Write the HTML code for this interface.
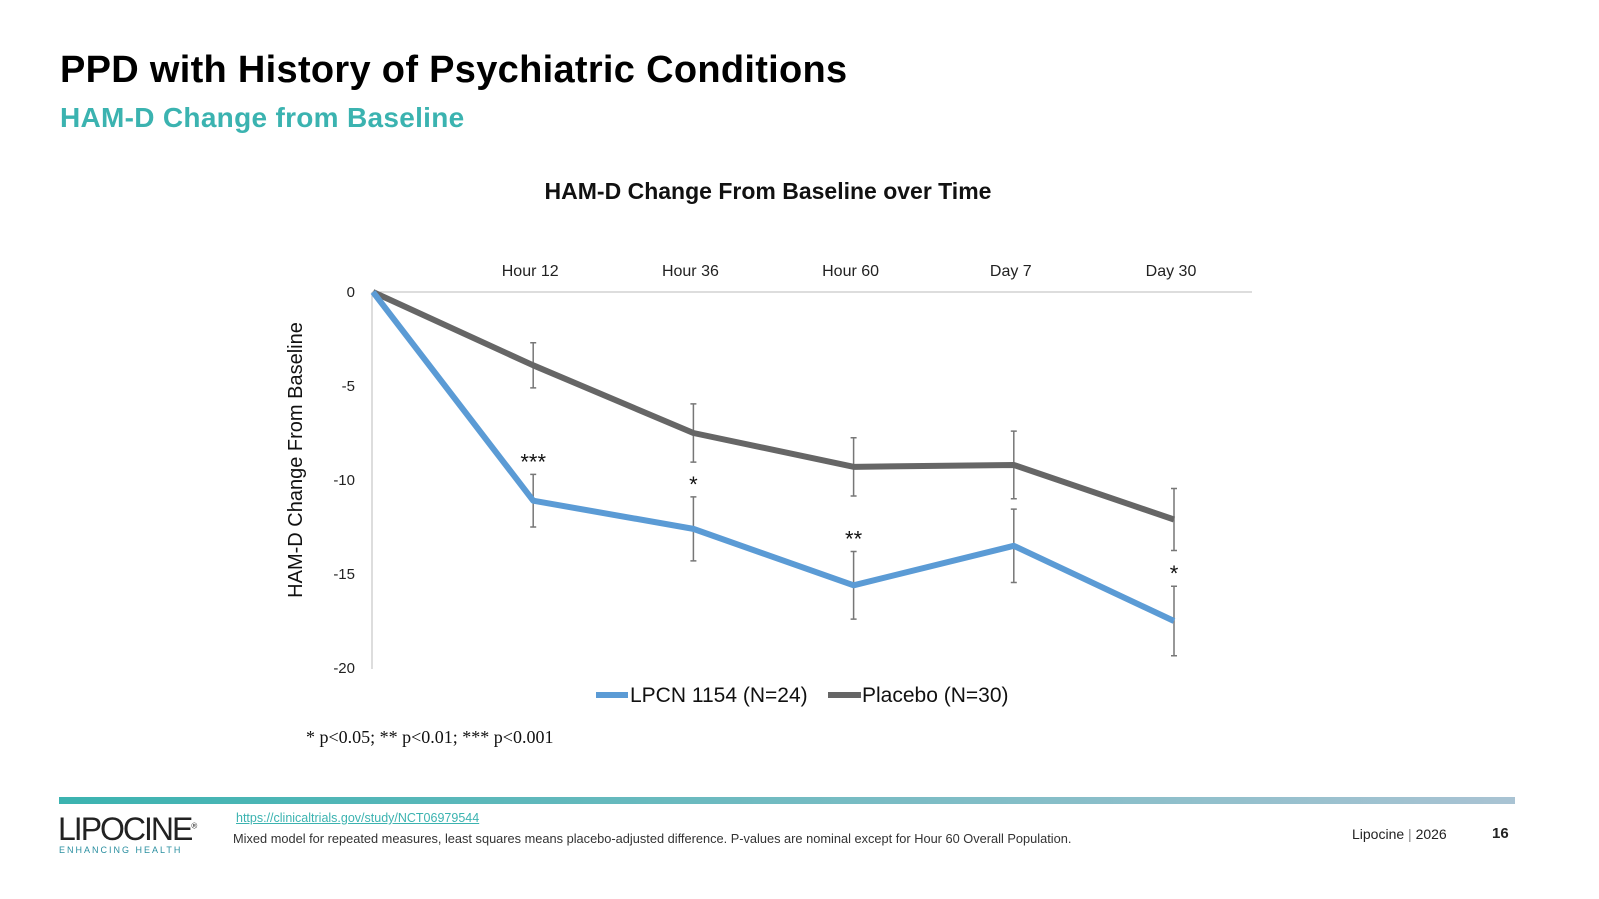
<!DOCTYPE html>
<html><head><meta charset="utf-8"><style>
body{margin:0;width:1599px;height:899px;background:#fff;font-family:"Liberation Sans",sans-serif;position:relative;overflow:hidden}
.a{position:absolute;white-space:nowrap}
</style></head><body>
<div class="a" style="left:60px;top:49px;font-size:38px;font-weight:bold;color:#000;letter-spacing:0.3px">PPD with History of Psychiatric Conditions</div>
<div class="a" style="left:60px;top:102px;font-size:28px;font-weight:bold;color:#3bb3b0;letter-spacing:0.3px">HAM-D Change from Baseline</div>
<svg class="a" style="left:0;top:0" width="1599" height="899">
<text x="768" y="199" text-anchor="middle" font-size="23" font-weight="bold" fill="#111" font-family="Liberation Sans">HAM-D Change From Baseline over Time</text>
<text transform="translate(302,460) rotate(-90)" text-anchor="middle" font-size="20" fill="#111" font-family="Liberation Sans">HAM-D Change From Baseline</text>
<g id="g"></g>
<g>
<line x1="596" y1="695" x2="628" y2="695" stroke="#5b9bd5" stroke-width="6"/>
<text x="630" y="702" font-size="21" fill="#111" font-family="Liberation Sans">LPCN 1154 (N=24)</text>
<line x1="828" y1="695" x2="861" y2="695" stroke="#666" stroke-width="6"/>
<text x="862" y="702" font-size="21" fill="#111" font-family="Liberation Sans">Placebo (N=30)</text>
</g>
<text x="306" y="743" font-size="18" fill="#111" font-family="Liberation Serif">* p&lt;0.05; ** p&lt;0.01; *** p&lt;0.001</text>
<defs><linearGradient id="bar" x1="0" x2="1"><stop offset="0" stop-color="#3bb3b0"/><stop offset="1" stop-color="#a9c3d3"/></linearGradient></defs>
<rect x="59" y="797" width="1456" height="7" fill="url(#bar)"/>
</svg>
<div class="a" style="left:58px;top:811px;font-size:32px;letter-spacing:-2px;color:#222">LIPOCINE<sup style="font-size:8px">®</sup></div>
<div class="a" style="left:59px;top:845px;font-size:9px;letter-spacing:2px;color:#2a8fa0">ENHANCING HEALTH</div>
<a class="a" style="left:236px;top:811px;font-size:12.5px;color:#3bb3b0;text-decoration:underline">https://clinicaltrials.gov/study/NCT06979544</a>
<div class="a" style="left:233px;top:831px;font-size:12.8px;color:#333">Mixed model for repeated measures, least squares means placebo-adjusted difference. P-values are nominal except for Hour 60 Overall Population.</div>
<div class="a" style="left:1352px;top:826px;font-size:14px;color:#222">Lipocine <span style="color:#888">|</span> 2026</div>
<div class="a" style="left:1492px;top:825px;font-size:15px;font-weight:bold;color:#222">16</div>
<script>
const categories=["Baseline","Hour 12","Hour 36","Hour 60","Day 7","Day 30"];
const lpcn=[0,-11.1,-12.6,-15.6,-13.5,-17.5];
const lpcnErr=[0,1.4,1.7,1.8,1.95,1.85];
const placebo=[0,-3.9,-7.5,-9.3,-9.2,-12.1];
const placeboErr=[0,1.2,1.55,1.55,1.8,1.65];
const stars=["","***","*","**","","*"];
const yTicks=[0,-5,-10,-15,-20];
const NS="http://www.w3.org/2000/svg";
const g=document.getElementById('g');
const X=i=>373+i*160.2, Y=v=>292-v*18.8;
function mk(t,a){const e=document.createElementNS(NS,t);for(const k in a)e.setAttribute(k,a[k]);g.appendChild(e);return e;}
let ax=mk('line',{x1:372,y1:292,x2:372,y2:669,stroke:'#bbb','stroke-width':1});


let ax2=mk('line',{x1:372,y1:292,x2:1252,y2:292,stroke:'#bbb','stroke-width':1});


yTicks.forEach(v=>{let t=mk('text',{x:355,y:Y(v)+5,'text-anchor':'end','font-size':15,fill:'#222','font-family':'Liberation Sans'});t.textContent=v;

});
categories.forEach((c,i)=>{if(!i)return;let t=mk('text',{x:X(i)-3,y:276,'text-anchor':'middle','font-size':16,fill:'#222','font-family':'Liberation Sans'});t.textContent=c;

});
function series(vals,err,col,name){
 vals.forEach((v,i)=>{if(!err[i])return;const x=X(i);
  let e=mk('path',{d:`M${x},${Y(v+err[i])}V${Y(v-err[i])}M${x-3},${Y(v+err[i])}h6M${x-3},${Y(v-err[i])}h6`,stroke:'#777','stroke-width':1.5,fill:'none'});
  
  });
 let p=mk('polyline',{points:vals.map((v,i)=>X(i)+','+Y(v)).join(' '),fill:'none',stroke:col,'stroke-width':6,'stroke-linejoin':'round'});
 
 
}
series(placebo,placeboErr,'#666','placebo');
series(lpcn,lpcnErr,'#5b9bd5','lpcn');
stars.forEach((s,i)=>{if(!s)return;let t=mk('text',{x:X(i),y:Y(lpcn[i]+lpcnErr[i])-5,'text-anchor':'middle','font-size':22,fill:'#111','font-family':'Liberation Sans'});t.textContent=s;

});
</script>
</body></html>
